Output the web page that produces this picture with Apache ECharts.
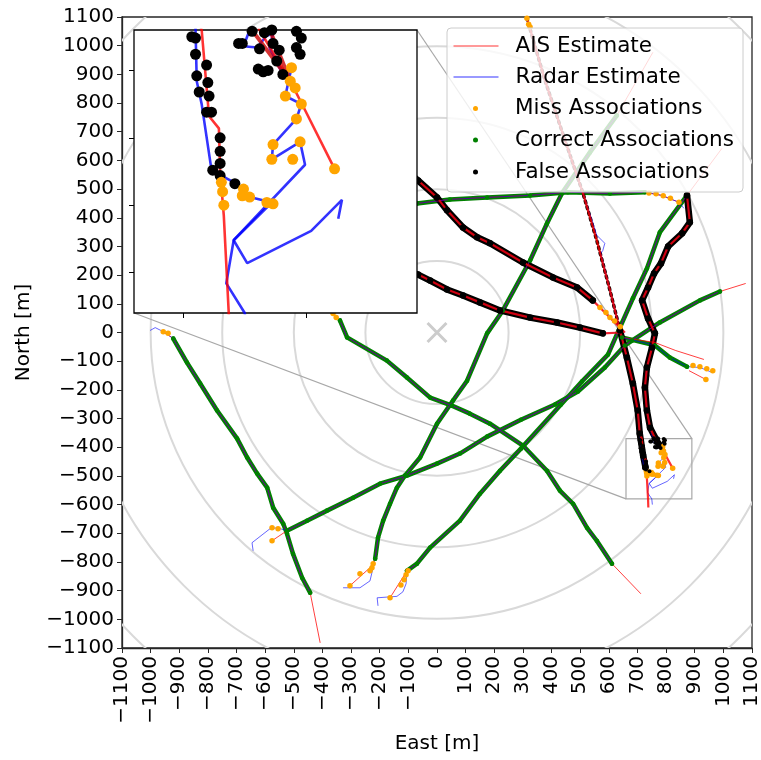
<!DOCTYPE html>
<html>
<head>
<meta charset="utf-8">
<script src="https://cdn.jsdelivr.net/npm/echarts@6/dist/echarts.min.js"></script>
<style>
html, body { margin: 0; padding: 0; background: #fff; }
#chart { width: 761px; height: 760px; }
</style>
</head>
<body>
<div id="chart"></div>
<script>
// range rings + inset window
var ringRadii = [250, 500, 750, 1000, 1250, 1500];
var originMark = [[0, 0]];
var insetX = [660, 890];
var insetY = [-580, -370];
var insetTicksX = [700, 800];
var insetTicksY = [-550, -500, -450, -400];

// AIS estimates (red)
var aisWest = [[-956,3],[-921,-21],[-873,-105],[-827,-178],[-768,-272],[-698,-370],[-663,-436],[-628,-492],[-593,-541],[-572,-611],[-537,-667],[-524,-701],[-503,-771],[-471,-855],[-443,-907],[-408,-1082]];
var aisSW = [[-576,-726],[-524,-691],[-454,-656],[-384,-621],[-293,-576],[-199,-527],[-105,-499],[0,-457],[80,-422],[175,-363],[293,-304],[412,-251],[492,-206],[586,-122],[656,-45],[681,-28],[778,35],[918,112],[988,143],[1078,171]];
var aisC = [[-304,-883],[-234,-820],[-216,-789],[-206,-715],[-188,-656],[-164,-597],[-140,-541],[-112,-499],[-59,-436],[0,-318],[56,-237],[105,-168],[175,-3],[230,77],[325,251],[384,380],[436,485],[534,628],[628,757],[754,977]];
var aisD = [[-164,-925],[-105,-831],[-70,-806],[-24,-750],[80,-656],[150,-562],[220,-482],[293,-405],[433,-251],[506,-171],[597,-77],[640,20],[684,119],[733,223],[778,349],[873,478],[995,642]];
var aisF = [[-363,66],[-339,42],[-314,-17],[-175,-98],[-105,-157],[-24,-227],[52,-255],[115,-283],[185,-318],[300,-394],[384,-482],[429,-551],[475,-597],[524,-681],[558,-726],[611,-806],[712,-911]];
var aisG = [[-129,443],[-70,450],[45,464],[175,471],[325,478],[457,489],[604,485],[726,489],[785,478],[845,454]];
var aisH1 = [[-129,583],[-66,530],[0,471],[35,426],[91,366],[140,332],[185,311],[300,244],[405,192],[489,157],[544,112],[614,42],[656,0]];
var aisH2 = [[-129,223],[-66,202],[-24,181],[35,150],[91,129],[150,105],[220,77],[325,52],[419,35],[499,17],[579,-3],[646,0]];
var aisR = [[646,-17],[761,-35],[834,-63],[932,-94]];
var aisR2 = [[880,-133],[939,-164]];
var aisN = [[314,1096],[377,879],[447,670],[510,485],[558,321],[604,147],[639,7],[663,-87],[684,-178],[701,-272],[708,-352],[715,-370],[721,-434],[729,-443],[730,-475],[733,-508],[737,-580],[738,-610]];
var aisH4 = [[873,478],[883,384],[856,346],[807,300],[782,241],[758,206],[737,157],[716,112],[737,49],[761,-3],[751,-52],[733,-122],[726,-192],[733,-272],[744,-332],[762,-370],[787,-408],[796,-424],[823,-473]];
var aisWedgeA = [[755,-369],[787,-408]];
var aisWedgeB = [[770,-369],[787,-408]];

// radar estimates (blue)
var radarWest = [[-1002,7],[-984,17]].concat(aisWest.slice(0, 15));
var radarSW = [[-642,-761],[-646,-733],[-583,-684],[-558,-681]].concat(aisSW.slice(1, 19));
var radarC = [[-328,-890],[-269,-890],[-234,-866]].concat(aisC.slice(2, 19));
var radarD = [[-206,-953],[-209,-925],[-140,-920],[-119,-904],[-108,-876]].concat(aisD.slice(1, 16));
var radarF = aisF.slice(0, 16);
var radarG = aisG.concat([[862,433]]);
var radarH1 = aisH1;
var radarH2 = aisH2;
var radarR = [[646,-17],[761,-45],[813,-87],[873,-119],[918,-122],[963,-140]];
var radarN = [[314,1096],[377,879],[447,670],[510,485],[545,380],[558,339],[586,311],[579,286],[572,276],[604,147],[639,7],[663,-87],[684,-178],[701,-272],[708,-352],[710,-369],[711,-408],[715,-425],[723,-474],[743,-484],[749,-488],[750,-493],[772,-498],[741,-526],[735,-558],[750,-580],[752,-600]];
var radarH4 = aisH4.slice(0, 15).concat([[754,-370],[749,-382],[760,-383],[768,-374],[773,-373],[770,-383],[781,-403],[788,-398],[783,-419],[796,-425],[792,-436],[773,-455],[772,-466],[795,-453],[799,-470],[741,-526],[752,-543],[804,-519],[829,-496],[826,-510]]);

// association bands (dense dots along the tracks)
var correctBands = [aisWest.slice(1, 15), aisSW.slice(1, 19), aisC.slice(2, 19), aisD.slice(1, 16), aisF.slice(1, 16), aisG.slice(0, 8), radarR.slice(0, 4)];
var falseBands = [aisH1.slice(0, 11), aisH2.slice(0, 11), aisN.slice(6, 11).concat([[720,-430],[728,-470]]), aisH4.slice(0, 15).concat([[776,-393]])];
var falseDotted = aisN.slice(0, 7);

// individual association dots
var missPts = [[-956,3],[-939,-3],[-576,-726],[-576,-681],[-555,-684],[-304,-883],[-269,-841],[-234,-831],[-227,-820],[-223,-806],
  [-164,-925],[-126,-880],[-115,-862],[-108,-845],[-101,-831],[-363,66],[-352,52],[740,486],[765,484],[790,477],[815,468],[845,454],
  [314,1096],[320,1075],[325,1065],[569,87],[590,70],[604,52],[620,40],[640,20],[894,-115],[918,-119],[942,-126],[963,-133],[939,-164],
  [731,-483],[732,-490],[733,-500],[749,-488],[748,-493],[754,-494],[768,-498],[773,-499],
  [788,-398],[787,-408],[791,-413],[783,-419],[796,-425],[792,-436],[773,-455],[795,-453],[772,-466],[789,-466],[823,-473]];
var falsePts = [[707,-375],[710,-376],[710,-388],[719,-396],[711,-404],[720,-409],[713,-416],[721,-419],[719,-431],[723,-431],[730,-450],[730,-460],[730,-469],[724,-474],[730,-478],[742,-484],
  [757,-369],[756,-371],[748,-380],[745,-380],[762,-384],[766,-372],[761,-399],[765,-401],[769,-400],[772,-370],[773,-380],[778,-385],[776,-393],[792,-371],[796,-376],[792,-383],[795,-388],[781,-403]];

var FONT = 'DejaVu Sans';
var AIS = 'AIS Estimate', RADAR = 'Radar Estimate', MISS = 'Miss Associations', CORRECT = 'Correct Associations', FALSE = 'False Associations';
var xPath = 'path://M2,0L10,8L18,0L20,2L12,10L20,18L18,20L10,12L2,20L0,18L8,10L0,2Z';

function minus(v) { return String(v).replace('-', '\u2212'); }

var series = [];

// range rings
series.push({
    type: 'custom', xAxisIndex: 0, yAxisIndex: 0, clip: true, silent: true, z: 1,
    data: ringRadii.map(function (r) { return [r, 0]; }),
    renderItem: function (params, api) {
        var c = api.coord([0, 0]);
        var e = api.coord([api.value(0), 0]);
        return {type: 'circle', shape: {cx: c[0], cy: c[1], r: e[0] - c[0]},
            style: {fill: 'transparent', stroke: '#d9d9d9', lineWidth: 2}};
    }
});
series.push({type: 'scatter', data: originMark, symbol: xPath, symbolSize: 21, silent: true, z: 1,
    itemStyle: {color: '#cccccc', opacity: 1}});

function band(name, data, color, width, dotted) {
    series.push({
        name: name, type: 'line', data: data, color: color, silent: true, z: 2,
        symbol: dotted ? 'none' : 'circle', symbolSize: width, showSymbol: !dotted, showAllSymbol: true,
        itemStyle: {color: color, opacity: 1},
        lineStyle: {color: color, width: width, type: dotted ? [2, 4] : 'solid', cap: 'round', join: 'round'}
    });
}
function line(name, data, color, width, inset, op) {
    series.push({
        name: name, type: 'line', data: data, color: color, silent: true,
        xAxisIndex: inset ? 1 : 0, yAxisIndex: inset ? 1 : 0, z: inset ? 12 : 2,
        symbol: 'none', lineStyle: {color: color, width: width, opacity: op || 0.8}
    });
}
function dots(name, data, color, size, inset) {
    series.push({
        name: name, type: 'scatter', data: data, color: color, silent: true,
        xAxisIndex: inset ? 1 : 0, yAxisIndex: inset ? 1 : 0, z: inset ? 12 : 2,
        symbol: 'circle', symbolSize: size, itemStyle: {color: color, opacity: 1}
    });
}

correctBands.forEach(function (d) { band(CORRECT, d, '#008000', 4.5); });
falseBands.forEach(function (d) { band(FALSE, d, '#000000', 6.5); });
band(FALSE, falseDotted, '#000000', 3.5, true);
dots(MISS, missPts, '#ffa500', 5.5);
dots(FALSE, falsePts, '#000000', 4);

[aisWest, aisSW, aisC, aisD, aisF, aisG, aisR, aisR2].forEach(function (d) { line(AIS, d, '#ff0000', 1, false, 0.75); });
[radarWest, radarSW, radarC, radarD, radarF, radarG, radarR, radarH1, radarH2, radarN, radarH4].forEach(function (d) {
    line(RADAR, d, '#0000ff', 1, false, 0.6);
});
[aisH1, aisH2, aisN, aisH4].forEach(function (d) { line(AIS, d, '#ff0000', 2.2, false, 0.8); });

// inset
dots(FALSE, falsePts, '#000000', 11, true);
dots(MISS, missPts, '#ffa500', 11, true);
[radarN, radarH4].forEach(function (d) { line(RADAR, d, '#0000ff', 2.6, true); });
[aisN, aisH4].forEach(function (d) { line(AIS, d, '#ff0000', 2.6, true); });
[aisWedgeA, aisWedgeB].forEach(function (d) { line(AIS, d, '#cc0000', 4, true); });

function legendItem(name, center, dot) {
    var d = {name: name};
    if (dot) {
        d.icon = 'circle';
    } else {
        d.itemStyle = {opacity: 0, borderWidth: 0};
        d.lineStyle = {width: 1, opacity: 0.8};
    }
    return {
        data: [d], left: dot ? 473 : 453, top: center - 12, orient: 'vertical', padding: 0,
        itemWidth: dot ? 5 : 45, itemHeight: dot ? 5 : 14, selectedMode: false, z: 4,
        textStyle: {fontFamily: FONT, fontSize: 21.5, color: '#000', lineHeight: 24,
            padding: [0, 0, 0, dot ? 32 : 12]}
    };
}

var axisText = {fontFamily: FONT, fontSize: 20, color: '#000'};

var option = {
    animation: false,
    backgroundColor: '#ffffff',
    grid: [
        {left: 122, top: 17, width: 630, height: 631, show: true, borderColor: '#262626', borderWidth: 1.3, outerBoundsMode: 'none'},
        {left: 134, top: 30, width: 283, height: 283, show: false, outerBoundsMode: 'none'}
    ],
    xAxis: [
        {gridIndex: 0, type: 'value', min: -1100, max: 1100, interval: 100,
            name: 'East [m]', nameLocation: 'middle', nameGap: 86, nameTextStyle: axisText,
            axisLine: {show: true, onZero: false, lineStyle: {color: '#262626', width: 1.3}},
            axisTick: {show: true, length: 5, lineStyle: {color: '#262626'}},
            axisLabel: {rotate: 90, margin: 8, showMinLabel: true, showMaxLabel: true, formatter: minus,
                fontFamily: FONT, fontSize: 20, color: '#000'},
            splitLine: {show: false}},
        {gridIndex: 1, type: 'value', min: insetX[0], max: insetX[1], z: 11,
            axisLine: {show: false, onZero: false},
            axisTick: {show: true, length: 5, customValues: insetTicksX, lineStyle: {color: '#000'}},
            axisLabel: {show: false}, splitLine: {show: false}}
    ],
    yAxis: [
        {gridIndex: 0, type: 'value', min: -1100, max: 1100, interval: 100,
            name: 'North [m]', nameLocation: 'middle', nameGap: 88, nameTextStyle: axisText,
            axisLine: {show: true, onZero: false, lineStyle: {color: '#262626', width: 1.3}},
            axisTick: {show: true, length: 5, lineStyle: {color: '#262626'}},
            axisLabel: {margin: 8, showMinLabel: true, showMaxLabel: true, formatter: minus,
                fontFamily: FONT, fontSize: 20, color: '#000'},
            splitLine: {show: false}},
        {gridIndex: 1, type: 'value', min: insetY[0], max: insetY[1], z: 11,
            axisLine: {show: false, onZero: false},
            axisTick: {show: true, length: 5, customValues: insetTicksY, lineStyle: {color: '#000'}},
            axisLabel: {show: false}, splitLine: {show: false}}
    ],
    legend: [
        legendItem(AIS, 46, false),
        legendItem(RADAR, 77, false),
        legendItem(MISS, 108.5, true),
        legendItem(CORRECT, 140, true),
        legendItem(FALSE, 172, true)
    ],
    series: series
};

var dom = document.getElementById('chart');
var myChart = echarts.init(dom, null, {renderer: 'canvas'});
myChart.setOption(option);

// inset frame, window in the main axes and connector lines
var bl = myChart.convertToPixel({gridIndex: 0}, [insetX[0], insetY[0]]);
var tr = myChart.convertToPixel({gridIndex: 0}, [insetX[1], insetY[1]]);
var ibl = myChart.convertToPixel({gridIndex: 1}, [insetX[0], insetY[0]]);
var itr = myChart.convertToPixel({gridIndex: 1}, [insetX[1], insetY[1]]);
var gray = '#a8a8a8';
myChart.setOption({
    graphic: [
        {type: 'rect', silent: true, z: 3, shape: {x: 447, y: 28, width: 296, height: 164, r: 4},
            style: {fill: 'rgba(255,255,255,0.8)', stroke: '#cccccc', lineWidth: 1}},
        {type: 'rect', silent: true, z: 1, shape: {x: bl[0], y: tr[1], width: tr[0] - bl[0], height: bl[1] - tr[1]},
            style: {fill: 'transparent', stroke: gray, lineWidth: 1.2}},
        {type: 'line', silent: true, z: 1, shape: {x1: ibl[0], y1: ibl[1], x2: bl[0], y2: bl[1]},
            style: {stroke: gray, lineWidth: 1.2}},
        {type: 'line', silent: true, z: 1, shape: {x1: itr[0], y1: itr[1], x2: tr[0], y2: tr[1]},
            style: {stroke: gray, lineWidth: 1.2}},
        {type: 'rect', silent: true, z: 10, shape: {x: ibl[0], y: itr[1], width: itr[0] - ibl[0], height: ibl[1] - itr[1]},
            style: {fill: '#ffffff', stroke: '#000000', lineWidth: 1.3}}
    ]
});
</script>
</body>
</html>
